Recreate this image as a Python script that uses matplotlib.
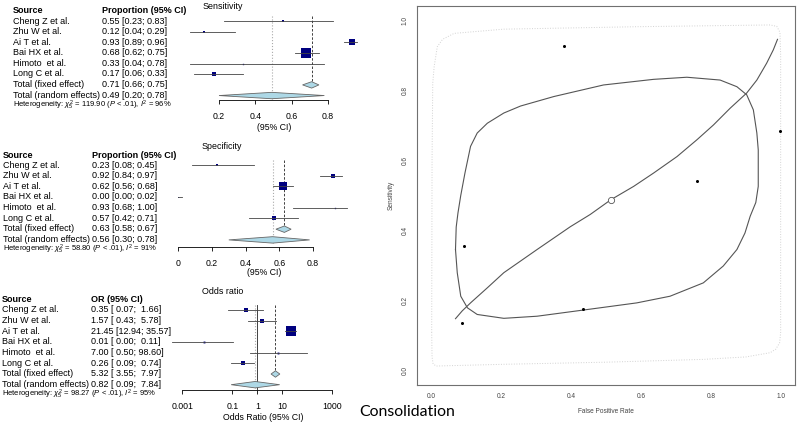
import matplotlib.pyplot as plt
import numpy as np
from matplotlib.patches import Polygon

plt.rcParams['font.family'] = ['Liberation Sans', 'DejaVu Sans']
plt.rcParams['mathtext.fontset'] = 'custom'
plt.rcParams['mathtext.rm'] = 'Liberation Sans'
plt.rcParams['mathtext.it'] = 'Liberation Sans:italic'
plt.rcParams['mathtext.bf'] = 'Liberation Sans:bold'

# ---- data ----
studies = ["Cheng Z et al.", "Zhu W et al.", "Ai T et al.", "Bai HX et al.",
           "Himoto  et al.", "Long C et al."]

sens_est = [0.55, 0.12, 0.93, 0.68, 0.33, 0.17]
sens_lo = [0.23, 0.04, 0.89, 0.62, 0.04, 0.06]
sens_hi = [0.83, 0.29, 0.96, 0.75, 0.78, 0.33]
sens_w = [3, 3, 20, 55, 1, 6]
sens_fixed = (0.71, 0.66, 0.75)
sens_random = (0.49, 0.20, 0.78)
sens_het = ("119.90", "96")

spec_est = [0.23, 0.92, 0.62, 0.00, 0.93, 0.57]
spec_lo = [0.08, 0.84, 0.56, 0.00, 0.68, 0.42]
spec_hi = [0.45, 0.97, 0.68, 0.02, 1.00, 0.71]
spec_w = [4, 6, 44, 0.3, 1, 10]
spec_fixed = (0.63, 0.58, 0.67)
spec_random = (0.56, 0.30, 0.78)
spec_het = ("58.80", "91")

or_est = [0.35, 1.57, 21.45, 0.0074, 7.00, 0.26]
or_lo = [0.07, 0.43, 12.94, 0.0004, 0.50, 0.09]
or_hi = [1.66, 5.78, 35.57, 0.11, 98.60, 0.74]
or_w = [9, 9, 47, 2, 2, 10]
or_fixed = (5.32, 3.55, 7.97)
or_random = (0.82, 0.09, 7.84)
or_het = ("98.27", "95")

# SROC panel (false positive rate, sensitivity)
study_fpr = [0.76, 0.088, 0.379, 0.997, 0.093, 0.433]
study_sens = [0.54, 0.136, 0.926, 0.683, 0.357, 0.176]
summary_fpr, summary_sens = 0.514, 0.487

curve_fpr = [0.070, 0.089, 0.113, 0.161, 0.208, 0.303, 0.398, 0.455, 0.514, 0.579, 0.636,
             0.703, 0.760, 0.807, 0.855, 0.902, 0.931, 0.959, 0.978, 0.990]
curve_sens = [0.149, 0.171, 0.194, 0.237, 0.280, 0.346, 0.411, 0.446, 0.488, 0.526, 0.564,
              0.611, 0.659, 0.701, 0.749, 0.792, 0.829, 0.877, 0.915, 0.945]

conf_fpr = [0.070, 0.072, 0.077, 0.085, 0.097, 0.113, 0.132, 0.161, 0.208, 0.256, 0.351,
            0.493, 0.636, 0.731, 0.826, 0.874, 0.902, 0.921, 0.931, 0.935, 0.935, 0.928,
            0.912, 0.897, 0.874, 0.835, 0.778, 0.683, 0.588, 0.446, 0.303, 0.208, 0.132,
            0.104, 0.085, 0.075, 0.070]
conf_sens = [0.346, 0.410, 0.450, 0.500, 0.564, 0.640, 0.678, 0.706, 0.735, 0.755, 0.782,
             0.815, 0.831, 0.837, 0.829, 0.810, 0.787, 0.744, 0.678, 0.630, 0.526, 0.480,
             0.441, 0.393, 0.346, 0.299, 0.251, 0.213, 0.194, 0.175, 0.156, 0.150, 0.161,
             0.180, 0.213, 0.280, 0.346]

pred_fpr = [0.002, 0.003, 0.005, 0.009, 0.018, 0.033, 0.066, 0.208, 0.589, 0.969, 0.988,
            0.997, 0.999, 0.999, 0.996, 0.985, 0.969, 0.900, 0.778, 0.500, 0.208, 0.050,
            0.015, 0.006, 0.003, 0.002]
pred_sens = [0.109, 0.600, 0.820, 0.867, 0.924, 0.945, 0.962, 0.974, 0.981, 0.986, 0.982,
             0.965, 0.900, 0.109, 0.080, 0.062, 0.052, 0.040, 0.033, 0.025, 0.019, 0.015,
             0.014, 0.020, 0.040, 0.109]

W, H = 798, 423
fig = plt.figure(figsize=(W / 100, H / 100), dpi=100)


def px_axes(x0, y0, x1, y1):
    return fig.add_axes([x0 / W, 1 - y1 / H, (x1 - x0) / W, (y1 - y0) / H])


def ptext(x, y, s, **kw):
    kw.setdefault('va', 'center')
    fig.text(x / W, 1 - y / H, s, **kw)


def diamond(ax, y, vals, h=0.3):
    e, l, u = vals
    ax.add_patch(Polygon([(l, y), (e, y - h), (u, y), (e, y + h)], closed=True,
                         facecolor='#add8e6', edgecolor='#666666', lw=0.6, clip_on=False))


def forest(x0, x1, row0, dy, axis_y, xlim, est, lo, hi, w, fixed, rand,
           ticks, tlabels, log=False, null=None):
    ax = px_axes(x0, row0 - 2 * dy, x1, axis_y)
    if log:
        ax.set_xscale('log')
    ax.set_xlim(xlim)
    ax.set_ylim((axis_y - row0) / dy, -2)
    rows = np.arange(len(est))
    for i in rows:
        ax.plot([lo[i], hi[i]], [i, i], color='#444444', lw=0.6, clip_on=False, zorder=3)
        side = 1.35 * np.sqrt(w[i])
        ax.plot(est[i], i, marker='s', ms=side * 0.72, color='#00007f', mew=0,
                clip_on=False, zorder=2)
    n = len(est)
    ax.plot([fixed[0]] * 2, [-0.5, n], color='#222222', lw=0.6, ls=(0, (3, 2)), zorder=1)
    ax.plot([rand[0]] * 2, [-0.5, n + 1.3], color='#aaaaaa', lw=0.8, ls=':', zorder=1)
    if null is not None:
        ax.plot([null] * 2, [-0.5, n + 1.4], color='#222222', lw=0.6, zorder=1, clip_on=False)
    diamond(ax, n, fixed)
    diamond(ax, n + 1, rand)
    for s in ['top', 'right', 'left']:
        ax.spines[s].set_visible(False)
    ax.spines['bottom'].set_linewidth(0.6)
    ax.set_yticks([])
    ax.set_xticks(ticks)
    ax.set_xticklabels(tlabels, fontsize=6.3)
    ax.minorticks_off()
    ax.tick_params(axis='x', length=3, width=0.6, pad=5.5)
    ax.patch.set_alpha(0)
    return ax


def table(xc1, xc2, head_y, row0, dy, head2, labels, het):
    ptext(xc1, head_y, "Source", fontsize=6.5, fontweight='bold')
    ptext(xc2, head_y, head2, fontsize=6.5, fontweight='bold')
    names = studies + ["Total (fixed effect)", "Total (random effects)"]
    for i, (name, lab) in enumerate(zip(names, labels)):
        ptext(xc1, row0 + i * dy, name, fontsize=6.5)
        ptext(xc2, row0 + i * dy, lab, fontsize=6.5)
    ptext(xc1, row0 + len(labels) * dy,
          r"Heterogeneity: $\chi^2_5$ = " + het[0] + r" ($P$ < .01), $I^2$ = " + het[1] + "%",
          fontsize=5.5)


def prop_labels(est, lo, hi, fixed, rand):
    vals = list(zip(est, lo, hi)) + [fixed, rand]
    return [f"{e:.2f} [{l:.2f}; {u:.2f}]" for e, l, u in vals]


def or_labels(est, lo, hi, fixed, rand):
    vals = list(zip(est, lo, hi)) + [fixed, rand]
    return [f"{e:.2f} [{l:5.2f}; {u:5.2f}]" for e, l, u in vals]


# Sensitivity
forest(219, 328, 21, 10.65, 100, (0.2, 0.8), sens_est, sens_lo, sens_hi, sens_w,
       sens_fixed, sens_random, [0.2, 0.4, 0.6, 0.8], ["0.2", "0.4", "0.6", "0.8"])
ptext(203, 6.5, "Sensitivity", fontsize=6.4)
ptext(274, 127.5, "(95% CI)", fontsize=6.3, ha='center')
table(13, 101.7, 10.7, 21, 10.6, "Proportion (95% CI)",
      prop_labels(sens_est, sens_lo, sens_hi, sens_fixed, sens_random), sens_het)

# Specificity
forest(178.3, 313, 165, 10.7, 247, (0.0, 0.8), spec_est, spec_lo, spec_hi, spec_w,
       spec_fixed, spec_random, [0, 0.2, 0.4, 0.6, 0.8], ["0", "0.2", "0.4", "0.6", "0.8"])
ptext(202, 146.5, "Specificity", fontsize=6.4)
ptext(264, 272.5, "(95% CI)", fontsize=6.3, ha='center')
table(3, 91.7, 155, 165, 10.6, "Proportion (95% CI)",
      prop_labels(spec_est, spec_lo, spec_hi, spec_fixed, spec_random), spec_het)

# Odds ratio
forest(182.3, 332.3, 310, 10.67, 390, (0.001, 1000), or_est, or_lo, or_hi, or_w,
       or_fixed, or_random, [0.001, 0.1, 1, 10, 1000], ["0.001", "0.1", "1", "10", "1000"],
       log=True, null=1)
ptext(202, 291, "Odds ratio", fontsize=6.4)
ptext(263, 417, "Odds Ratio (95% CI)", fontsize=6.3, ha='center')
table(2, 90.7, 299, 310, 10.6, "OR (95% CI)",
      or_labels(or_est, or_lo, or_hi, or_fixed, or_random), or_het)

ptext(359, 412, "Consolidation", fontsize=11.4, family='Lato')

# SROC
ax = px_axes(417, 6, 795, 385)
ax.plot(pred_fpr, pred_sens, color='#d2d2d2', lw=0.7, ls=':')
ax.plot(conf_fpr, conf_sens, color='#555555', lw=0.8, solid_joinstyle='round')
ax.plot(curve_fpr, curve_sens, color='#555555', lw=0.8, solid_joinstyle='round')
ax.plot(study_fpr, study_sens, 'o', color='black', ms=2.2, mew=0)
ax.plot(summary_fpr, summary_sens, 'o', mfc='white', mec='#555555', ms=4.5, mew=0.6)
ax.set_xlim(-0.04, 1.04)
ax.set_ylim(-0.04, 1.04)
ticks = [0.0, 0.2, 0.4, 0.6, 0.8, 1.0]
ax.set_xticks(ticks)
ax.set_yticks(ticks)
ax.set_xticklabels([f"{t:.1f}" for t in ticks], fontsize=4.7, color='#444444')
ax.set_yticklabels([f"{t:.1f}" for t in ticks], fontsize=4.7, color='#444444',
                   rotation=90, va='center')
ax.tick_params(length=0, pad=6)
for s in ax.spines.values():
    s.set_color('#707070')
    s.set_linewidth(0.8)
ptext(390.7, 195, "Sensitivity", fontsize=4.7, rotation=90, ha='center', color='#444444')
ptext(605.7, 411.7, "False Positive Rate", fontsize=4.7, ha='center', color='#444444')

fig.savefig("out.png", dpi=100)
